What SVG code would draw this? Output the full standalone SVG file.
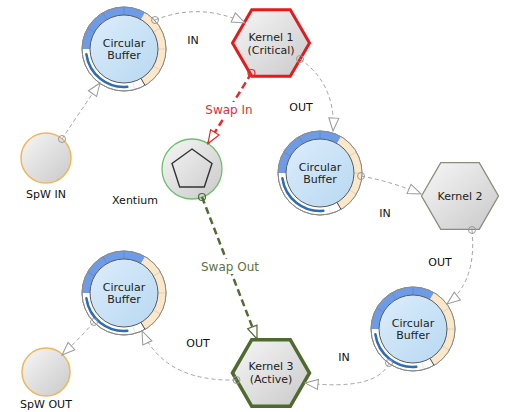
<svg xmlns="http://www.w3.org/2000/svg" xmlns:xlink="http://www.w3.org/1999/xlink" width="506" height="412" viewBox="0 0 506 412">
<style>
text{font-family:"DejaVu Sans","Liberation Sans",sans-serif;font-size:11px;fill:#222;text-anchor:middle}
.lbl{font-size:11px;fill:#111}
.swin{font-size:12px;fill:#e0303a}
.swout{font-size:12px;fill:#5d7345}
.conn{fill:none;stroke:#a3a3a3;stroke-width:1;stroke-dasharray:4 3}
.red{fill:none;stroke:#e52a2a;stroke-width:2.5;stroke-dasharray:7 4}
.grn{fill:none;stroke:#536b37;stroke-width:2.5;stroke-dasharray:7 4}
.hexK1{fill:url(#gGray);stroke:#e51b1b;stroke-width:3;stroke-linejoin:miter}
.hexK2{fill:url(#gGray);stroke:#8c8c7c;stroke-width:1.3}
.hexK3{fill:url(#gGray);stroke:#4f6a2e;stroke-width:3.5}
.spw{fill:url(#gGray);stroke:#f0b75a;stroke-width:1.5}
.sep{stroke:#000;stroke-opacity:0.12;stroke-width:0.8}
</style>
<defs>
<linearGradient id="gGray" x1="0" y1="0" x2="1" y2="1">
<stop offset="0" stop-color="#f7f7f7"/>
<stop offset="1" stop-color="#c9c9c9"/>
</linearGradient>
<linearGradient id="gBlue" x1="0" y1="0" x2="1" y2="1">
<stop offset="0" stop-color="#dcedfb"/>
<stop offset="1" stop-color="#b7d8f1"/>
</linearGradient>
<marker id="arr" markerUnits="userSpaceOnUse" markerWidth="16" markerHeight="14" refX="13.5" refY="6" orient="auto" overflow="visible">
<path d="M0.5,1 L13.5,6 L0.5,11 Z" fill="#fff" stroke="#999" stroke-width="1"/>
</marker>
<marker id="dot" markerUnits="userSpaceOnUse" markerWidth="10" markerHeight="10" refX="5" refY="5" overflow="visible">
<circle cx="5" cy="5" r="3.5" fill="none" stroke="#999" stroke-width="1"/>
</marker>
<marker id="arrR" markerUnits="userSpaceOnUse" markerWidth="16" markerHeight="14" refX="13.5" refY="6" orient="auto" overflow="visible">
<path d="M0.5,1 L13.5,6 L0.5,11 Z" fill="#fff" stroke="#e52a2a" stroke-width="1.2"/>
</marker>
<marker id="dotR" markerUnits="userSpaceOnUse" markerWidth="10" markerHeight="10" refX="5" refY="5" overflow="visible">
<circle cx="5" cy="5" r="3.5" fill="none" stroke="#e52a2a" stroke-width="1.2"/>
</marker>
<marker id="arrG" markerUnits="userSpaceOnUse" markerWidth="16" markerHeight="14" refX="13.5" refY="6" orient="auto" overflow="visible">
<path d="M0.5,1 L13.5,6 L0.5,11 Z" fill="#fff" stroke="#536b37" stroke-width="1.2"/>
</marker>
<marker id="dotG" markerUnits="userSpaceOnUse" markerWidth="10" markerHeight="10" refX="5" refY="5" overflow="visible">
<circle cx="5" cy="5" r="3.5" fill="none" stroke="#536b37" stroke-width="1.2"/>
</marker>
<polygon id="hex" points="-38.5,0 -19.25,-33.3 19.25,-33.3 38.5,0 19.25,33.3 -19.25,33.3"/>
<g id="cbuf">
<circle r="42" fill="#fff" stroke="#8a8a8a" stroke-width="1"/>
<path d="M-42,0 A42,42 0 0 1 21,-36.37 L17,-29.44 A34,34 0 0 0 -34,0 Z" fill="#6e9be6"/>
<path d="M21,-36.37 A42,42 0 0 1 21,36.37 L17,29.44 A34,34 0 0 0 17,-29.44 Z" fill="#fbe8cb"/>
<g class="sep">
<line x1="-36.4" y1="-21" x2="-29.4" y2="-17"/>
<line x1="-21" y1="-36.4" x2="-17" y2="-29.4"/>
<line x1="0" y1="-42" x2="0" y2="-34"/>
<line x1="36.4" y1="-21" x2="29.4" y2="-17"/>
<line x1="42" y1="0" x2="34" y2="0"/>
<line x1="36.4" y1="21" x2="29.4" y2="17"/>
<line x1="10.9" y1="40.6" x2="8.8" y2="32.8"/>
<line x1="-40.6" y1="10.9" x2="-32.8" y2="8.8"/>
</g>
<line x1="21" y1="36.37" x2="17" y2="29.44" stroke="#444" stroke-width="1"/>
<circle r="42" fill="none" stroke="#8a8a8a" stroke-width="1"/>
<path d="M-37.63,5.29 A38,38 0 0 0 3.31,37.86" fill="none" stroke="#2c6db8" stroke-width="2.5" stroke-linecap="round"/>
<circle r="34" fill="url(#gBlue)" stroke="#5a5a5a" stroke-width="1"/>
</g>
</defs>
<rect width="506" height="412" fill="#fff"/>

<g id="spw_in">
<circle cx="46" cy="158" r="25" class="spw"/>
<text x="46" y="198" class="lbl">SpW IN</text>
</g>
<g id="cb1">
<use xlink:href="#cbuf" href="#cbuf" x="124" y="49"/>
<text x="124" y="47">Circular</text>
<text x="124" y="59">Buffer</text>
</g>
<g id="k1">
<use xlink:href="#hex" href="#hex" x="271" y="43" class="hexK1"/>
<text x="271" y="41">Kernel 1</text>
<text x="271" y="54">(Critical)</text>
</g>
<g id="xentium">
<circle cx="192" cy="169" r="30" fill="url(#gGray)" stroke="#6cc06c" stroke-width="1.3"/>
<polygon points="192,149 212,163.5 204.3,187 179.7,187 172,163.5" fill="none" stroke="#333" stroke-width="1.4"/>
<text x="135" y="204" class="lbl">Xentium</text>
</g>
<g id="cb2">
<use xlink:href="#cbuf" href="#cbuf" x="320" y="173"/>
<text x="320" y="171">Circular</text>
<text x="320" y="183">Buffer</text>
</g>
<g id="k2">
<use xlink:href="#hex" href="#hex" x="460" y="196" class="hexK2"/>
<text x="460" y="200">Kernel 2</text>
</g>
<g id="cb3">
<use xlink:href="#cbuf" href="#cbuf" x="413" y="329"/>
<text x="413" y="327">Circular</text>
<text x="413" y="339">Buffer</text>
</g>
<g id="k3">
<use xlink:href="#hex" href="#hex" x="271" y="373" class="hexK3"/>
<text x="271" y="370">Kernel 3</text>
<text x="271" y="383">(Active)</text>
</g>
<g id="cb4">
<use xlink:href="#cbuf" href="#cbuf" x="124" y="293"/>
<text x="124" y="291">Circular</text>
<text x="124" y="303">Buffer</text>
</g>
<g id="spw_out">
<circle cx="46" cy="372" r="24" class="spw"/>
<text x="46" y="408" class="lbl">SpW OUT</text>
</g>

<g id="connectors">
<path class="conn" d="M62,139 Q79,113 100,83" marker-start="url(#dot)" marker-end="url(#arr)"/>
<path class="conn" d="M155,20 Q200,2 245,23" marker-start="url(#dot)" marker-end="url(#arr)"/>
<path class="conn" d="M300,59 Q336,84 333,131" marker-start="url(#dot)" marker-end="url(#arr)"/>
<path class="conn" d="M361,176 Q393,182 421,194" marker-start="url(#dot)" marker-end="url(#arr)"/>
<path class="conn" d="M472,230 Q477,281 447,304" marker-start="url(#dot)" marker-end="url(#arr)"/>
<path class="conn" d="M389,363 Q377,391 305,383" marker-start="url(#dot)" marker-end="url(#arr)"/>
<path class="conn" d="M236.5,380 Q165,382 142,331" marker-start="url(#dot)" marker-end="url(#arr)"/>
<path class="conn" d="M94,322 Q78,340 62,355" marker-start="url(#dot)" marker-end="url(#arr)"/>
<path class="red" d="M251.5,73 L208,143.5" marker-start="url(#dotR)" marker-end="url(#arrR)"/>
<path class="grn" d="M202,197 L257,339" marker-start="url(#dotG)" marker-end="url(#arrG)"/>
<text x="193" y="44" class="lbl">IN</text>
<text x="301" y="111" class="lbl">OUT</text>
<text x="385" y="217" class="lbl">IN</text>
<text x="440" y="266" class="lbl">OUT</text>
<text x="344" y="361" class="lbl">IN</text>
<text x="198" y="347" class="lbl">OUT</text>
<rect x="204" y="102" width="50" height="15" fill="#fff"/>
<text x="229" y="114" class="swin">Swap In</text>
<rect x="200" y="259" width="60" height="15" fill="#fff"/>
<text x="230" y="271" class="swout">Swap Out</text>
</g>
</svg>
